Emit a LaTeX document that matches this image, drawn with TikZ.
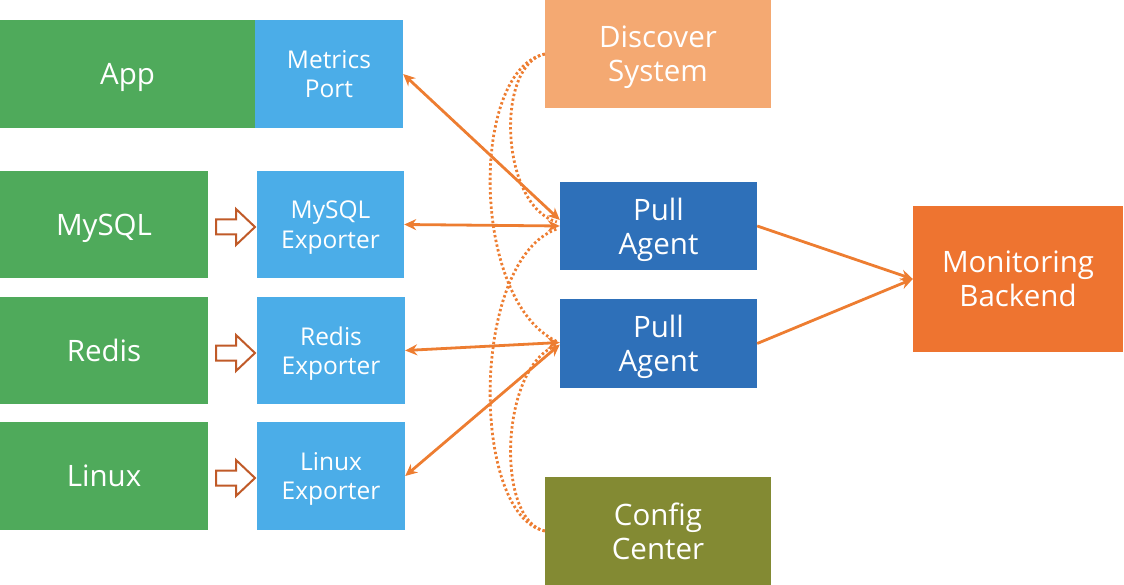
\documentclass[tikz,border=0pt]{standalone}
\usepackage{fontspec}
\setmainfont{Open Sans}
\usetikzlibrary{arrows.meta}

\definecolor{appgreen}{HTML}{4FAA5B}
\definecolor{portblue}{HTML}{4BADE8}
\definecolor{discorange}{HTML}{F4A972}
\definecolor{agentblue}{HTML}{2E70B9}
\definecolor{backorange}{HTML}{EE7430}
\definecolor{configolive}{HTML}{838A33}
\definecolor{lineorange}{HTML}{ED7D31}
\definecolor{outlinebrown}{HTML}{C05A28}

\begin{document}
\begin{tikzpicture}[x=1pt,y=-1pt,
	box/.style={text=white, align=center, inner sep=0pt, text depth=0pt,
		font=\fontsize{29.5}{34}\selectfont},
	small/.style={box, font=\fontsize{24.5}{29.5}\selectfont},
	link/.style={lineorange, line width=2.8pt,
		{Stealth[length=12pt,width=11pt]}-{Stealth[length=12pt,width=11pt]}},
	feed/.style={lineorange, line width=2.8pt, -{Stealth[length=12pt,width=11pt]}},
	lookup/.style={lineorange, line width=2.8pt, dash pattern=on 2.4pt off 2.4pt},
	hollow/.style={draw=outlinebrown, line width=2pt, fill=white}]

	\useasboundingbox (0,0) rectangle (1124,585);

	% sources and their exporters
	\node[box, fill=appgreen, minimum width=255pt, minimum height=108pt] (app) at (127.5,74) {App};
	\node[small, fill=portblue, minimum width=148pt, minimum height=108pt] (port) at (329,74) {Metrics\\Port};
	\node[box, fill=appgreen, minimum width=208pt, minimum height=107pt] (mysql) at (104,224.5) {MySQL};
	\node[small, fill=portblue, minimum width=147pt, minimum height=107pt] (myexp) at (330.5,224.5) {MySQL\\Exporter};
	\node[box, fill=appgreen, minimum width=208pt, minimum height=107pt] (redis) at (104,350.5) {Redis};
	\node[small, fill=portblue, minimum width=148pt, minimum height=107pt] (rexp) at (331,350.5) {Redis\\Exporter};
	\node[box, fill=appgreen, minimum width=208pt, minimum height=108pt] (linux) at (104,476) {Linux};
	\node[small, fill=portblue, minimum width=148pt, minimum height=108pt] (lexp) at (331,476) {Linux\\Exporter};

	% agents and services
	\node[box, fill=discorange, minimum width=226pt, minimum height=108pt] (disc) at (658,54) {Discover\\System};
	\node[box, fill=agentblue, minimum width=197pt, minimum height=88pt] (pa1) at (658.5,226) {Pull\\Agent};
	\node[box, fill=agentblue, minimum width=197pt, minimum height=89pt] (pa2) at (658.5,343.5) {Pull\\Agent};
	\node[box, fill=backorange, minimum width=210pt, minimum height=146pt] (mon) at (1018,279) {Monitoring\\Backend};
	\node[box, fill=configolive, minimum width=226pt, minimum height=108pt] (conf) at (658,531) {Config\\Center};

	\foreach \y in {227,353,478}
		\draw[hollow, shift={(216,\y)}] (0,-7.5) -- (20,-7.5) -- (20,-18) -- (39,0)
			-- (20,18) -- (20,7.5) -- (0,7.5) -- cycle;

	\draw[link] (port.east) -- ([yshift=6pt]pa1.west);
	\draw[link] (myexp.east) -- (pa1.west);
	\draw[link] (rexp.east) -- ([yshift=1pt]pa2.west);
	\draw[link] (lexp.east) -- ([yshift=-1pt]pa2.west);
	\draw[feed] (pa1.east) -- (mon.west);
	\draw[feed] (pa2.east) -- (mon.west);

	\draw[lookup] (disc.west) .. controls (495,65) and (500,205) .. ([xshift=-3pt,yshift=4pt]pa1.west);
	\draw[lookup] (disc.west) .. controls (470,70) and (470,300) .. ([xshift=-3pt,yshift=2pt]pa2.west);
	\draw[lookup] (conf.west) .. controls (495,520) and (500,365) .. ([xshift=-3pt,yshift=-2pt]pa2.west);
	\draw[lookup] (conf.west) .. controls (470,515) and (470,260) .. ([xshift=-3pt,yshift=-3pt]pa1.west);
\end{tikzpicture}
\end{document}
